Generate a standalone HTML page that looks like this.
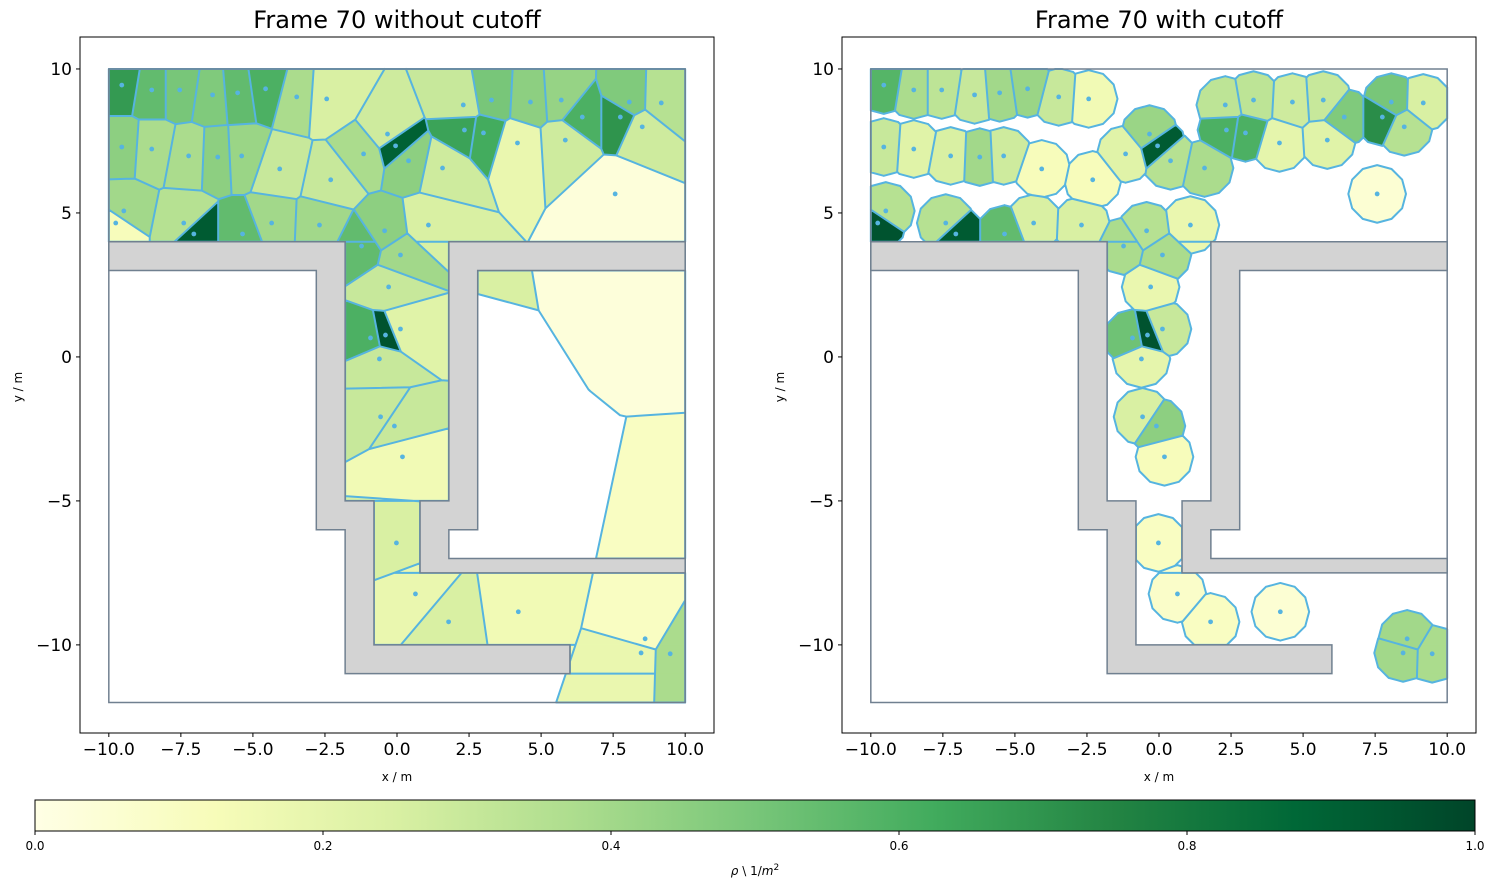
<!DOCTYPE html>
<html><head><meta charset="utf-8"><style>
body{margin:0;background:#fff;}
svg text{font-family:"DejaVu Sans","Liberation Sans",sans-serif;fill:#000;}
</style></head><body>
<svg id="fig" width="1496" height="891" viewBox="0 0 1496 891" xmlns="http://www.w3.org/2000/svg">
<defs>
<linearGradient id="ylgn" x1="0" x2="1" y1="0" y2="0">
<stop offset="0" stop-color="#ffffe5"/><stop offset="0.125" stop-color="#f7fcb9"/><stop offset="0.25" stop-color="#d9f0a3"/><stop offset="0.375" stop-color="#addd8e"/><stop offset="0.5" stop-color="#78c679"/><stop offset="0.625" stop-color="#41ab5d"/><stop offset="0.75" stop-color="#238443"/><stop offset="0.875" stop-color="#006837"/><stop offset="1" stop-color="#004529"/>
</linearGradient>
</defs>
<g id="left"></g>
<g id="right"></g>
<g id="cbar">
<rect x="35" y="800" width="1440" height="31" fill="url(#ylgn)" stroke="#000" stroke-width="1"/>
</g>
<text x="755" y="875" text-anchor="middle" font-size="12"><tspan font-style="italic">ρ</tspan> \ 1/<tspan font-style="italic">m</tspan><tspan font-size="9" dy="-5">2</tspan></text>
</svg>
<script>
// pedestrian positions (m) and densities
const pxs=[-9.55,-8.51,-7.54,-6.40,-5.53,-4.56,-3.48,-2.44,-0.33,-0.05,0.40,2.30,3.28,4.63,5.70,8.06,9.17,2.34,3.00,6.43,7.75,8.51,1.58,4.18,5.84,7.57,-9.55,-8.51,-7.23,-6.22,-5.39,-4.07,-2.30,-1.16,-9.48,-9.76,-7.40,-7.05,-5.36,-4.35,-2.69,-0.43,-1.23,1.09,0.12,-0.29,0.12,-0.92,-0.40,-0.61,-0.57,-0.09,0.19,-0.02,0.64,1.79,4.21,8.61,8.47,9.48];
const pys=[9.44,9.27,9.27,9.10,9.17,9.31,9.03,8.96,7.74,7.33,6.81,8.75,8.92,8.85,8.92,8.85,8.82,7.88,7.78,8.33,8.33,7.99,6.56,7.43,7.53,5.66,7.29,7.22,6.98,6.94,6.98,6.53,6.15,7.05,5.07,4.65,4.65,4.27,4.27,4.65,4.58,4.38,3.85,4.58,3.54,2.43,0.97,0.66,0.76,-0.07,-2.08,-2.40,-3.47,-6.46,-8.23,-9.20,-8.85,-9.79,-10.28,-10.31];
const densNoCut=[0.68,0.55,0.5,0.48,0.55,0.6,0.38,0.25,0.28,0.9,0.45,0.3,0.5,0.45,0.43,0.48,0.35,0.65,0.62,0.6,0.7,0.28,0.28,0.18,0.28,0.03,0.45,0.38,0.38,0.45,0.42,0.3,0.3,0.38,0.4,0.12,0.35,0.92,0.55,0.4,0.4,0.45,0.55,0.25,0.4,0.3,0.22,0.6,0.95,0.3,0.3,0.3,0.15,0.25,0.18,0.25,0.15,0.1,0.18,0.38];
const densCut=[0.58,0.38,0.33,0.3,0.4,0.42,0.3,0.15,0.42,0.92,0.35,0.33,0.33,0.28,0.3,0.5,0.25,0.6,0.6,0.48,0.72,0.35,0.38,0.2,0.22,0.05,0.3,0.22,0.25,0.4,0.28,0.12,0.12,0.22,0.35,0.95,0.35,0.92,0.55,0.25,0.25,0.35,0.38,0.18,0.38,0.18,0.3,0.52,0.95,0.2,0.25,0.45,0.12,0.1,0.08,0.1,0.05,0.4,0.4,0.38];
const xTicks=[-10,-7.5,-5,-2.5,0,2.5,5,7.5,10];
const yTicks=[-10,-5,0,5,10];
const cbTicks=[0,0.2,0.4,0.6,0.8,1.0];
const cutoff=1.0;

const NS="http://www.w3.org/2000/svg";
const X0=-11,X1=11,Y0=-13.06,Y1=11.11,AW=634,AH=696,AT=37;
function mk(tag,attrs,parent){const e=document.createElementNS(NS,tag);for(const k in attrs)e.setAttribute(k,attrs[k]);parent.appendChild(e);return e;}
const stops=[[0,[255,255,229]],[0.125,[247,252,185]],[0.25,[217,240,163]],[0.375,[173,221,142]],[0.5,[120,198,121]],[0.625,[65,171,93]],[0.75,[35,132,67]],[0.875,[0,104,55]],[1,[0,69,41]]];
function cmap(v){v=Math.max(0,Math.min(1,v));for(let i=0;i<stops.length-1;i++){const[a,ca]=stops[i],[b,cb]=stops[i+1];if(v<=b){const t=(v-a)/(b-a);return 'rgb('+ca.map((c,k)=>Math.round(c+(cb[k]-c)*t)).join(',')+')';}}return 'rgb(0,69,41)';}
function clip(poly,a,b,c){const out=[];for(let i=0;i<poly.length;i++){const P=poly[i],Q=poly[(i+1)%poly.length];const fp=a*P[0]+b*P[1]-c,fq=a*Q[0]+b*Q[1]-c;if(fp<=0)out.push(P);if((fp<0&&fq>0)||(fp>0&&fq<0)){const t=fp/(fp-fq);out.push([P[0]+t*(Q[0]-P[0]),P[1]+t*(Q[1]-P[1])]);}}return out;}
function area(p){let s=0;for(let i=0;i<p.length;i++){const a=p[i],b=p[(i+1)%p.length];s+=a[0]*b[1]-b[0]*a[1];}return Math.abs(s)/2;}
function halfplanes(poly){const cx=poly.reduce((s,p)=>s+p[0],0)/poly.length,cy=poly.reduce((s,p)=>s+p[1],0)/poly.length;const hp=[];for(let i=0;i<poly.length;i++){const P=poly[i],Q=poly[(i+1)%poly.length];let a=Q[1]-P[1],b=P[0]-Q[0];if(Math.hypot(a,b)<1e-12)continue;let c=a*P[0]+b*P[1];if(a*cx+b*cy>c){a=-a;b=-b;c=-c;}hp.push([a,b,c]);}return hp;}
function clipConvex(poly,conv){let r=poly;for(const[a,b,c]of halfplanes(conv)){r=clip(r,a,b,c);if(r.length<3)return[];}return r;}
function rectPoly(r){return[[r[0],r[2]],[r[1],r[2]],[r[1],r[3]],[r[0],r[3]]];}
const regions={R1:[-10,10,4,10],A:[-10,-2.8,-12,3],B:[-2.8,-1.8,-12,-6],C:[-1.8,10,-12,-11],D:[6,10,-11,-10],E:[-0.8,10,-10,-7.5],F:[-0.8,0.8,-7.5,-5],G:[-1.8,1.8,-5,4],H1:[2.8,10,-6,3],H2:[1.8,10,-7,-6]};
const links=[['R1','G',[-1.8,4],[1.8,4],1],['G','F',[-0.8,-5],[0.8,-5],1],['F','E',[-0.8,-7.5],[0.8,-7.5],1],['E','D',[6,-10],[10,-10],1],['D','C',[6,-11],[10,-11],1],['C','B',[-1.8,-12],[-1.8,-11],1],['B','A',[-2.8,-12],[-2.8,-6],1],['R1','H1',[2.8,3.5],[10,3.5],0],['H2','E',[7,-7.25],[10,-7.25],0],['H1','H2',[2.8,-6],[10,-6],1]];
function segHits(poly,P,Q){let t0=0,t1=1;const d=[Q[0]-P[0],Q[1]-P[1]];for(const[a,b,c]of halfplanes(poly)){const f=a*P[0]+b*P[1]-c,g=a*d[0]+b*d[1];if(Math.abs(g)<1e-12){if(f>0)return false;}else{const t=-f/g;if(g>0)t1=Math.min(t1,t);else t0=Math.max(t0,t);}}return t1-t0>1e-3;}
function onSeg(p,P,Q){const e=1e-6;if(Math.abs(P[1]-Q[1])<e){return Math.abs(p[1]-P[1])<e&&p[0]>=Math.min(P[0],Q[0])-e&&p[0]<=Math.max(P[0],Q[0])+e;}return Math.abs(p[0]-P[0])<e&&p[1]>=Math.min(P[1],Q[1])-e&&p[1]<=Math.max(P[1],Q[1])+e;}
function cellPieces(i,withCut){let cell=[[-10,-12],[10,-12],[10,10],[-10,10]];const xi=pxs[i],yi=pys[i];
 for(let j=0;j<pxs.length;j++){if(j===i)continue;const a=pxs[j]-xi,b=pys[j]-yi;if(a===0&&b===0)continue;const c=a*(xi+pxs[j])/2+b*(yi+pys[j])/2;cell=clip(cell,a,b,c);if(cell.length<3)return[];}
 if(withCut){const circ=[];for(let k=0;k<12;k++){const t=k*Math.PI/6;circ.push([xi+cutoff*Math.cos(t),yi+cutoff*Math.sin(t)]);}cell=clipConvex(cell,circ);if(cell.length<3)return[];}
 const pieces={};for(const k in regions){const p=clipConvex(cell,rectPoly(regions[k]));if(p.length>=3&&area(p)>1e-6)pieces[k]=p;}
 let start=null;for(const k in regions){const r=regions[k];if(xi>=r[0]&&xi<=r[1]&&yi>=r[2]&&yi<=r[3]&&pieces[k]){start=k;break;}}
 if(!start)return[];
 const seen={[start]:true},q=[start];while(q.length){const k=q.shift();for(const[a,b,P,Q]of links){let o=null;if(a===k)o=b;else if(b===k)o=a;if(!o||seen[o]||!pieces[o])continue;if(segHits(cell,P,Q)){seen[o]=true;q.push(o);}}}
 return Object.keys(seen).map(k=>{
  const p=pieces[k];const inner=[];
  for(const[a,b,P,Q,real]of links){if(!real)continue;if((a===k&&seen[b])||(b===k&&seen[a]))inner.push([P,Q]);}
  const edges=[];for(let m=0;m<p.length;m++){const u=p[m],v=p[(m+1)%p.length];if(!inner.some(([P,Q])=>onSeg(u,P,Q)&&onSeg(v,P,Q)))edges.push([u,v]);}
  return{poly:p,edges:edges};});}
const obstacles=[[[-10,4],[-1.8,4],[-1.8,-5],[-0.8,-5],[-0.8,-10],[6,-10],[6,-11],[-1.8,-11],[-1.8,-6],[-2.8,-6],[-2.8,3],[-10,3]],[[1.8,4],[10,4],[10,3],[2.8,3],[2.8,-6],[1.8,-6],[1.8,-7],[10,-7],[10,-7.5],[0.8,-7.5],[0.8,-5],[1.8,-5]]];

function panel(g,left,title,withCut,dens){
 const sx=x=>left+(x-X0)/(X1-X0)*AW, sy=y=>AT+(Y1-y)/(Y1-Y0)*AH;
 const pts=p=>p.map(v=>sx(v[0]).toFixed(2)+','+sy(v[1]).toFixed(2)).join(' ');
 const cells=mk('g',{},g);
 
 
 const all=[];for(let i=0;i<pxs.length;i++){for(const pc of cellPieces(i,withCut))all.push([i,pc]);}
 for(const[i,pc]of all){const e=mk('polygon',{points:pts(pc.poly),fill:cmap(dens[i]),stroke:cmap(dens[i]),'stroke-width':0.6},cells);
  
  }
 let d='';for(const[i,pc]of all){for(const[u,v]of pc.edges)d+='M'+sx(u[0]).toFixed(2)+','+sy(u[1]).toFixed(2)+'L'+sx(v[0]).toFixed(2)+','+sy(v[1]).toFixed(2);}
 const ed=mk('path',{d:d,fill:'none',stroke:'#56b4e0','stroke-width':2,'stroke-linecap':'round'},cells);
 
 
 const b=mk('polygon',{points:pts([[-10,-12],[10,-12],[10,10],[-10,10]]),fill:'none',stroke:'#708090','stroke-width':1.5},g);
 
 
 for(const o of obstacles){const e=mk('polygon',{points:pts(o),fill:'#d3d3d3',stroke:'#708090','stroke-width':1.5},g);
  
  }
 for(let i=0;i<pxs.length;i++){const e=mk('circle',{cx:sx(pxs[i]),cy:sy(pys[i]),r:2.4,fill:'#56b4e0'},g);
  
  }
 const fr=mk('rect',{x:left,y:AT,width:AW,height:AH,fill:'none',stroke:'#000','stroke-width':1},g);
 
 
 for(const v of xTicks){const x=sx(v);mk('line',{x1:x,x2:x,y1:AT+AH,y2:AT+AH+4,stroke:'#000'},g);const t=mk('text',{x:x,y:AT+AH+22,'text-anchor':'middle','font-size':17},g);t.textContent=(v<0?'−':'')+Math.abs(v).toFixed(1);
  
  }
 for(const v of yTicks){const y=sy(v);mk('line',{x1:left-4,x2:left,y1:y,y2:y,stroke:'#000'},g);const t=mk('text',{x:left-8,y:y+6,'text-anchor':'end','font-size':17},g);t.textContent=(v<0?'−':'')+Math.abs(v);
  
  }
 const tt=mk('text',{x:left+AW/2,y:28,'text-anchor':'middle','font-size':24},g);tt.textContent=title;
 
 
 const xl=mk('text',{x:left+AW/2,y:781,'text-anchor':'middle','font-size':12},g);xl.textContent='x / m';
 
 
 const yl=mk('text',{x:0,y:0,'text-anchor':'middle','font-size':12,transform:'translate('+(left-58)+',387) rotate(-90)'},g);yl.textContent='y / m';
 
 
}
panel(document.getElementById('left'),80,'Frame 70 without cutoff',false,densNoCut);
panel(document.getElementById('right'),842,'Frame 70 with cutoff',true,densCut);
const cb=document.getElementById('cbar');
for(const v of cbTicks){const x=35+v*1440;mk('line',{x1:x,x2:x,y1:831,y2:835,stroke:'#000'},cb);const t=mk('text',{x:x,y:850,'text-anchor':'middle','font-size':12},cb);t.textContent=v.toFixed(1);
 
 }
</script>
</body></html>
